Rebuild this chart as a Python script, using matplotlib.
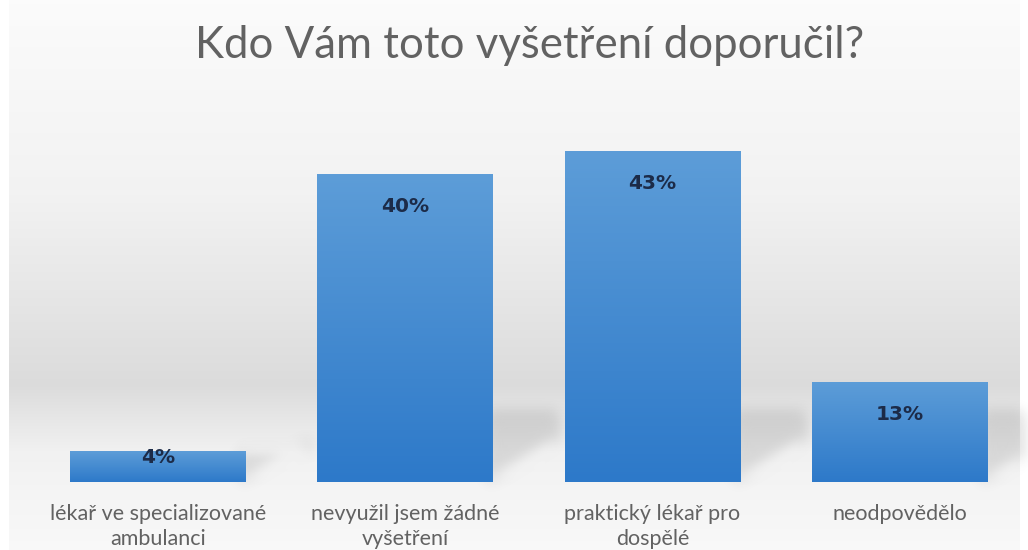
import numpy as np
import matplotlib
matplotlib.use('Agg')
import matplotlib.pyplot as plt
from matplotlib.colors import LinearSegmentedColormap
from matplotlib.patches import Polygon

title = 'Kdo Vám toto vyšetření doporučil?'
categories = ['lékař ve specializované\nambulanci',
              'nevyužil jsem žádné\nvyšetření',
              'praktický lékař pro\ndospělé',
              'neodpovědělo']
values = [4, 40, 43, 13]
labels = ['4%', '40%', '43%', '13%']

text_gray = '#626262'
value_color = '#1c2b48'
bar_top = '#5d9dd8'
bar_bottom = '#2d79c9'


def gaussian_blur(sigma):
    def _filter(img, dpi):
        pad = int(3 * sigma)
        h, w, _ = img.shape
        out = np.zeros((h + 2 * pad, w + 2 * pad, 4))
        out[pad:pad + h, pad:pad + w] = img
        k = np.exp(-0.5 * (np.arange(-pad, pad + 1) / sigma) ** 2)
        k /= k.sum()
        out = np.apply_along_axis(lambda m: np.convolve(m, k, mode='same'), 0, out)
        out = np.apply_along_axis(lambda m: np.convolve(m, k, mode='same'), 1, out)
        return out, -pad, -pad
    return _filter


fig = plt.figure(figsize=(10.28, 5.5), dpi=100)
fig.patch.set_facecolor('white')

# soft grey backdrop, darkest just above the floor
bg = fig.add_axes([9 / 1028, 0, 1011 / 1028, 1], zorder=0)
ys = np.linspace(0, 1, 550)
stops_y = [0.0, 0.06, 0.13, 0.18, 0.30, 0.47, 0.65, 1.0]
stops_v = [0.975, 0.965, 0.955, 0.945, 0.86, 0.905, 0.95, 0.985]
col = np.interp(ys, stops_y, stops_v)
grad = np.repeat(col[:, None], 2, axis=1)
bg.imshow(np.dstack([grad, grad, grad]), aspect='auto', origin='lower',
          extent=[0, 1, 0, 1])
bg.set_axis_off()

ax = fig.add_axes([34.4 / 1028, 68 / 550, 988.8 / 1028, 346.5 / 550], zorder=1)
ax.set_facecolor('none')
x = np.arange(len(values))
width = 0.71
bars = ax.bar(x, values, width=width, color=bar_bottom, zorder=2)

cmap = LinearSegmentedColormap.from_list('barfill', [bar_bottom, bar_top])
fill = np.linspace(0, 1, 256).reshape(-1, 1)
for rect, v, lab in zip(bars, values, labels):
    x0 = rect.get_x()
    x1 = x0 + rect.get_width()
    im = ax.imshow(fill, cmap=cmap, aspect='auto', origin='lower',
                   extent=[x0, x1, 0, v], zorder=3)
    im.set_clip_path(rect)

    # cast shadow on the floor to the right of each bar
    h = min(v, 9.0)
    shadow = Polygon([(x1 - 0.02, 0), (x1 + 0.26, 5.5), (x1 + 0.26, h),
                      (x1 - 0.02, h)],
                     closed=True, facecolor='#707070', alpha=0.2,
                     edgecolor='none', zorder=1.5)
    shadow.set_agg_filter(gaussian_blur(7))
    ax.add_patch(shadow)

    # value label near the top inside the bar
    ax.text(x0 + rect.get_width() / 2, max(v - 4.2, 3.2), lab,
            ha='center', va='center', fontsize=14.5, fontweight='bold',
            family='DejaVu Sans', color=value_color, zorder=4)

ax.set_xlim(-0.5, len(values) - 0.5)
ax.set_ylim(0, 45)
ax.set_xticks(x)
ax.set_xticklabels(categories, family='Lato', fontsize=15.5, color=text_gray,
                   linespacing=1.3)
ax.tick_params(axis='x', length=0, pad=16)
ax.set_yticks([])
for s in ax.spines.values():
    s.set_visible(False)

fig.text(529.5 / 1028, 1 - 58 / 550, title, ha='center', va='baseline',
         family='Lato', fontsize=31.5, color=text_gray)

fig.savefig('out.png', dpi=100)
